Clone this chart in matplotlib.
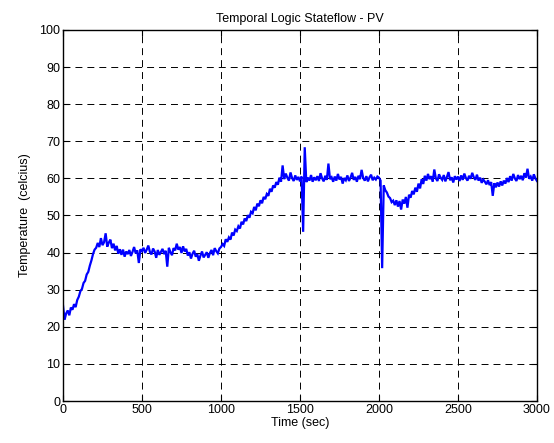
import numpy as np
import matplotlib
matplotlib.use("Agg")
import matplotlib.pyplot as plt

# sample time step is 10 s, 0..3000 s
T_STEP = 10

# temperature readings (celcius), one row per 100 s
PV = [
    25.8, 21.9, 23.6, 24.4, 23.1, 25.2, 24.6, 26.1, 25.3, 27.2,
    28.1, 29.6, 30.2, 31.8, 32.4, 34.1, 34.8, 36.5, 37.9, 39.6,
    40.8, 41.3, 42.6, 41.5, 43.9, 42.0, 42.8, 45.2, 41.6, 42.7,
    43.5, 41.2, 42.4, 40.6, 41.8, 39.7, 40.9, 39.4, 40.8, 38.9,
    40.3, 39.6, 40.7, 39.1, 40.2, 41.5, 39.8, 40.6, 37.2, 40.9,
    40.4, 41.3, 39.9, 40.8, 41.9, 40.2, 39.5, 41.1, 40.3, 38.6,
    40.7, 39.4, 40.2, 41.0, 39.6, 40.5, 36.2, 41.3, 40.1, 39.3,
    41.2, 40.6, 42.4, 40.8, 41.5, 39.9, 41.7, 40.3, 41.0, 39.2,
    40.1, 38.4, 39.7, 40.5, 38.9, 39.6, 37.8, 39.2, 40.3, 38.7,
    39.4, 40.1, 38.6, 39.9, 40.7, 39.3, 41.2, 40.4, 39.8, 41.1,
    41.5, 42.3, 41.8, 43.6, 42.9, 44.1, 43.5, 45.4, 44.6, 46.2,
    45.8, 47.1, 46.5, 48.3, 47.6, 49.2, 48.5, 50.1, 49.4, 51.0,
    50.6, 52.3, 51.4, 53.2, 52.5, 54.1, 53.3, 55.0, 54.4, 55.8,
    55.3, 57.2, 56.4, 58.1, 57.5, 59.0, 58.3, 60.2, 59.1, 63.5,
    59.8, 61.3, 60.2, 59.4, 61.6, 60.1, 59.3, 60.8, 59.6, 60.4,
    59.2, 60.5, 45.6, 68.4, 59.0, 60.2, 59.4, 60.9, 59.1, 60.3,
    59.5, 60.6, 59.3, 61.4, 60.0, 59.2, 60.7, 59.6, 64.0, 59.8,
    60.3, 59.1, 60.5, 59.4, 61.2, 59.7, 60.4, 58.6, 60.1, 59.5,
    60.8, 59.3, 60.2, 61.5, 59.6, 60.4, 59.1, 60.7, 59.8, 62.3,
    60.1, 59.4, 60.6, 59.2, 60.3, 61.0, 59.5, 60.2, 59.7, 60.5,
    60.2, 59.4, 35.8, 58.1, 56.8, 56.2, 55.1, 54.7, 53.6, 54.0,
    52.8, 54.1, 52.4, 53.9, 51.6, 54.3, 53.2, 55.0, 52.1, 55.6,
    54.8, 56.6, 55.7, 57.5, 56.4, 58.6, 57.3, 59.8, 58.5, 60.7,
    59.4, 61.2, 59.8, 60.6, 59.1, 62.4, 60.0, 59.3, 61.1, 60.2,
    59.6, 60.9, 59.2, 60.4, 61.7, 59.5, 60.3, 58.9, 60.6, 59.7,
    60.5, 59.3, 60.8, 59.6, 61.3, 60.1, 59.4, 60.7, 59.9, 61.5,
    60.3, 59.6, 61.0, 59.4, 60.2, 58.8, 59.7, 59.1, 58.4, 59.5,
    58.2, 59.0, 55.3, 58.7, 57.6, 58.9, 57.8, 59.2, 58.1, 59.4,
    58.6, 60.1, 59.0, 60.6, 59.4, 61.2, 60.0, 59.3, 60.9, 59.8,
    60.7, 59.5, 61.4, 60.2, 62.6, 59.9, 60.5, 59.4, 61.1, 60.0,
    59.3,
]

X_TICKS = [0, 500, 1000, 1500, 2000, 2500, 3000]
Y_TICKS = [0, 10, 20, 30, 40, 50, 60, 70, 80, 90, 100]

plt.rcParams.update({
    "font.family": ["Liberation Sans", "DejaVu Sans"],
    "font.size": 9,
    "lines.scale_dashes": False,
})

t = np.arange(len(PV)) * T_STEP

fig = plt.figure(figsize=(5.54, 4.43), dpi=100)
ax = fig.add_axes([0.1137, 0.0948, 0.8556, 0.8375])

ax.plot(t, PV, color="#0000ff", linewidth=1.6, solid_joinstyle="miter")

ax.set_xlim(0, 3000)
ax.set_ylim(0, 100)
ax.set_xticks(X_TICKS)
ax.set_yticks(Y_TICKS)
ax.tick_params(direction="in", length=4, width=0.8, top=True, right=True,
               colors="black", labelsize=9, pad=2)
ax.grid(True, color="black", linestyle=(0, (5, 3.6)), linewidth=0.7)
ax.set_axisbelow(True)
for sp in ax.spines.values():
    sp.set_linewidth(1.0)
    sp.set_color("black")

ax.set_title("Temporal Logic Stateflow - PV", fontsize=9, pad=6)
ax.set_xlabel("Time (sec)", fontsize=9, labelpad=1)
ax.set_ylabel("Temperature  (celcius)", fontsize=9, labelpad=6)

fig.savefig("out.png", dpi=100)
